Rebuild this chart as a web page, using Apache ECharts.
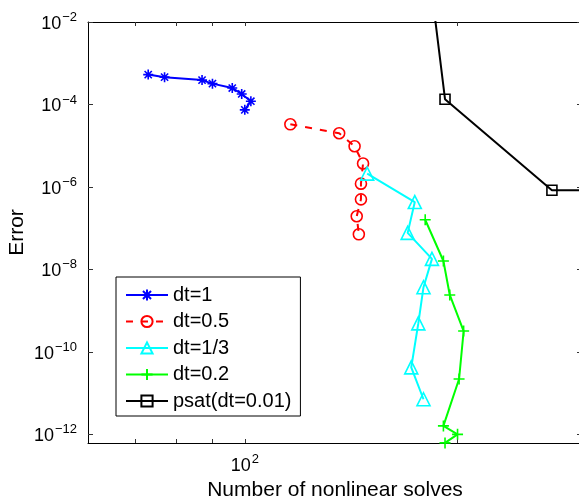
<!DOCTYPE html>
<html>
<head>
<meta charset="utf-8">
<script src="https://cdn.jsdelivr.net/npm/echarts@6/dist/echarts.min.js"></script>
<style>
  html, body { margin: 0; padding: 0; background: #fff; }
  #chart { width: 579px; height: 499px; }
</style>
</head>
<body>
<div id="chart"></div>
<script>
// Number of nonlinear solves vs. error, for several time steps (log-log)
const seriesNames = ['dt=1', 'dt=0.5', 'dt=1/3', 'dt=0.2', 'psat(dt=0.01)'];

const solvesDt1 = [73, 77, 87, 90, 96, 99, 102, 100];
const errDt1 = [5.3e-4, 4.6e-4, 3.9e-4, 3.2e-4, 2.5e-4, 1.8e-4, 1.2e-4, 7.4e-5];

const solvesDt05 = [116, 136, 143, 147, 146, 146, 144, 145];
const errDt05 = [3.3e-5, 2.0e-5, 9.7e-6, 3.7e-6, 1.2e-6, 5.0e-7, 1.95e-7, 7.1e-8];

const solvesDt13 = [149, 174, 170, 184, 179, 176, 172, 179];
const errDt13 = [2.1e-6, 4.3e-7, 7.7e-8, 1.8e-8, 3.7e-9, 4.9e-10, 4.2e-11, 7.1e-12];

const solvesDt02 = [180, 191, 195, 204, 201, 191, 200, 192];
const errDt02 = [1.6e-7, 1.6e-8, 2.4e-9, 3.2e-10, 2.2e-11, 1.6e-12, 1.0e-12, 6.2e-13];

const solvesPsat = [184, 192, 272, 400];
const errPsat = [5e-2, 1.34e-4, 8.3e-7, 8.3e-7];

// axis ranges and ticks (in data units)
const xRange = [60, 300];
const xTickValues = [70, 80, 90, 100, 200, 300];
const xLabelValues = [100];
const yRangeExp = [-12.21, -2];
const yTickExps = [-12, -10, -8, -6, -4, -2];

const lg = Math.log10;
const FONT = 'Liberation Sans, Arial, sans-serif';

function pairs(xs, ys) {
  return xs.map((x, i) => [lg(x), lg(ys[i])]);
}

function powLabel(v) {
  const e = Math.round(v);
  const s = e < 0 ? '\u2212' + Math.abs(e) : String(e);
  return '{b|10}{s|' + s + '}';
}

const richPow = {
  b: { fontSize: 18, fontFamily: FONT, color: '#000', lineHeight: 22, verticalAlign: 'bottom' },
  s: { fontSize: 13, fontFamily: FONT, color: '#000', lineHeight: 22, verticalAlign: 'top', padding: [0, 0, 0, 1] }
};

const asterisk = 'path://M0,-1L0,1M-1,0L1,0M-0.72,-0.72L0.72,0.72M-0.72,0.72L0.72,-0.72';
const plus = 'path://M0,-1L0,1M-1,0L1,0';

function lineSeries(name, data, color, symbol, size, dashed) {
  return {
    name: name,
    type: 'line',
    data: data,
    symbol: symbol,
    symbolSize: size,
    showAllSymbol: true,
    clip: true,
    lineStyle: { color: color, width: 2, type: dashed ? [7, 8] : 'solid' },
    itemStyle: { color: 'rgba(0,0,0,0)', borderColor: color, borderWidth: 1.6 },
    emphasis: { disabled: true },
    animation: false
  };
}

const xAxisBase = {
  type: 'value',
  min: lg(xRange[0]),
  max: lg(xRange[1]),
  splitLine: { show: false },
  axisLine: { onZero: false, lineStyle: { color: '#000', width: 1 } },
  axisTick: { inside: true, length: 4, customValues: xTickValues.map(lg), lineStyle: { color: '#333' } }
};
const yAxisBase = {
  type: 'value',
  min: yRangeExp[0],
  max: yRangeExp[1],
  splitLine: { show: false },
  axisLine: { onZero: false, lineStyle: { color: '#000', width: 1 } },
  axisTick: { inside: true, length: 5, customValues: yTickExps, lineStyle: { color: '#333' } }
};

const chart = echarts.init(document.getElementById('chart'), null, { renderer: 'canvas' });
chart.setOption({
  animation: false,
  backgroundColor: '#fff',
  grid: { left: 88, top: 22, width: 494, height: 421, containLabel: false, outerBoundsMode: 'none' },
  xAxis: [
    Object.assign({}, xAxisBase, {
      position: 'bottom',
      name: 'Number of nonlinear solves',
      nameLocation: 'middle',
      nameGap: 32,
      nameTextStyle: { fontSize: 21, fontFamily: FONT, color: '#000' },
      axisLabel: {
        customValues: xLabelValues.map(lg),
        margin: 10,
        formatter: powLabel,
        rich: richPow
      }
    }),
    Object.assign({}, xAxisBase, { position: 'top', axisLabel: { show: false } })
  ],
  yAxis: [
    Object.assign({}, yAxisBase, {
      position: 'left',
      name: 'Error',
      nameLocation: 'middle',
      nameGap: 60,
      nameMoveOverlap: false,
      nameTextStyle: { fontSize: 21, fontFamily: FONT, color: '#000' },
      axisLabel: {
        customValues: yTickExps,
        margin: 11,
        formatter: powLabel,
        rich: richPow
      }
    }),
    Object.assign({}, yAxisBase, { position: 'right', axisLabel: { show: false } })
  ],
  legend: {
    orient: 'vertical',
    left: 116,
    top: 277,
    itemWidth: 42,
    itemHeight: 14,
    itemGap: 6.5,
    padding: [8, 9, 5, 9],
    borderColor: '#000',
    borderWidth: 1,
    backgroundColor: '#fff',
    selectedMode: false,
    textStyle: { fontSize: 20, fontFamily: FONT, color: '#000' },
    data: seriesNames
  },
  series: [
    lineSeries(seriesNames[0], pairs(solvesDt1, errDt1), '#0000ff', asterisk, 10, false),
    lineSeries(seriesNames[1], pairs(solvesDt05, errDt05), '#ff0000', 'circle', 11, true),
    lineSeries(seriesNames[2], pairs(solvesDt13, errDt13), '#00ffff', 'triangle', 13, false),
    lineSeries(seriesNames[3], pairs(solvesDt02, errDt02), '#00ff00', plus, 11, false),
    lineSeries(seriesNames[4], pairs(solvesPsat, errPsat), '#000000', 'rect', 10, false)
  ]
});
</script>
</body>
</html>
